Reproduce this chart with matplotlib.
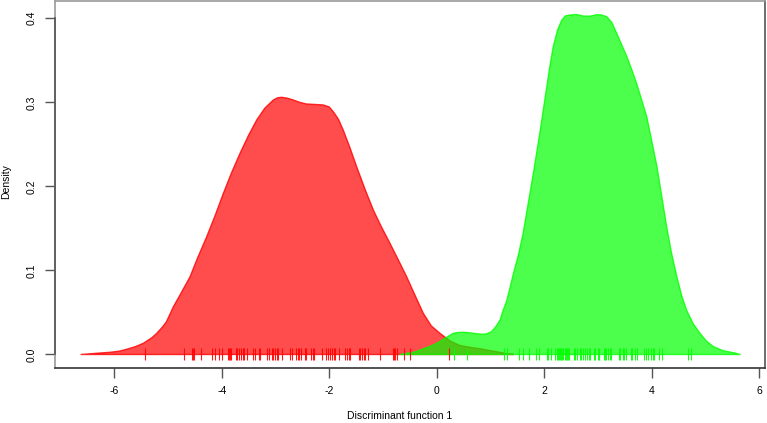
import matplotlib
matplotlib.use("Agg")
import matplotlib.pyplot as plt

# ---- data ----
red_x = [-6.62, -6.08, -5.90, -5.77, -5.60, -5.46, -5.30, -5.21, -5.10, -5.03, -4.90, -4.75,
         -4.59, -4.45, -4.28, -4.12, -3.97, -3.82, -3.66, -3.50, -3.35, -3.20, -3.04, -2.96,
         -2.885, -2.78, -2.67, -2.55, -2.42, -2.27, -2.11, -2.00, -1.925, -1.83, -1.74, -1.62,
         -1.49, -1.33, -1.18, -1.03, -0.87, -0.71, -0.56, -0.40, -0.25, -0.10, 0.06, 0.25,
         0.43, 0.62, 0.81, 1.00, 1.18, 1.30, 1.43]
red_y = [0.0, 0.0026, 0.0040, 0.0062, 0.0095, 0.0133, 0.0200, 0.0252, 0.0330, 0.0390, 0.0569,
         0.0740, 0.0926, 0.1150, 0.1402, 0.1660, 0.1918, 0.2160, 0.2394, 0.2610, 0.2790,
         0.2930, 0.3028, 0.3055, 0.3060, 0.3050, 0.3028, 0.3000, 0.2980, 0.2975, 0.2969,
         0.2945, 0.2889, 0.2800, 0.2671, 0.2470, 0.2234, 0.1960, 0.1719, 0.1520, 0.1323,
         0.1120, 0.0926, 0.0700, 0.0490, 0.0340, 0.0252, 0.0160, 0.0107, 0.0085, 0.0068,
         0.0045, 0.0025, 0.0010, 0.0]

green_x = [-0.68, -0.40, -0.06, 0.0, 0.155, 0.31, 0.40, 0.495, 0.59, 0.68, 0.84, 0.93, 1.02,
           1.10, 1.18, 1.24, 1.30, 1.36, 1.43, 1.52, 1.61, 1.70, 1.80, 1.92, 1.985, 2.05,
           2.11, 2.17, 2.25, 2.33, 2.40, 2.48, 2.60, 2.73, 2.85, 2.98, 3.07, 3.165, 3.26,
           3.35, 3.44, 3.54, 3.63, 3.72, 3.81, 3.91, 4.00, 4.10, 4.19, 4.28, 4.37, 4.47,
           4.56, 4.65, 4.77, 4.90, 5.02, 5.15, 5.33, 5.52, 5.65]
green_y = [0.0, 0.003, 0.0113, 0.0133, 0.0193, 0.0252, 0.0262, 0.0264, 0.0260, 0.0252, 0.0240,
           0.0245, 0.0271, 0.0330, 0.0410, 0.0530, 0.0630, 0.0780, 0.0966, 0.1180, 0.1442,
           0.1780, 0.2156, 0.2632, 0.2910, 0.3186, 0.3440, 0.3662, 0.3860, 0.3980, 0.4030,
           0.4039, 0.4045, 0.4027, 0.4025, 0.4043, 0.4040, 0.4019, 0.3950, 0.3822, 0.3690,
           0.3543, 0.3390, 0.3227, 0.3040, 0.2829, 0.2550, 0.2234, 0.1880, 0.1521, 0.1210,
           0.0926, 0.0700, 0.0529, 0.0370, 0.0252, 0.0160, 0.0093, 0.0045, 0.0021, 0.0]

red_rug = [-5.43, -4.70, -4.55, -4.53, -4.51, -4.38, -4.19, -4.12, -4.05, -3.99, -3.88, -3.86,
           -3.84, -3.83, -3.74, -3.71, -3.68, -3.64, -3.61, -3.58, -3.53, -3.41, -3.39, -3.30,
           -3.28, -3.16, -3.13, -3.07, -3.04, -3.01, -2.98, -2.95, -2.88, -2.73, -2.69, -2.62,
           -2.59, -2.56, -2.53, -2.45, -2.43, -2.34, -2.31, -2.28, -2.13, -2.06, -2.03, -1.98,
           -1.95, -1.92, -1.89, -1.81, -1.70, -1.67, -1.64, -1.61, -1.45, -1.42, -1.39, -1.36,
           -1.33, -1.27, -1.06, -0.81, -0.79, -0.77, -0.73, -0.61, -0.49, 0.235]
green_rug = [0.32, 0.57, 1.26, 1.31, 1.54, 1.61, 1.71, 1.84, 1.91, 2.05, 2.08, 2.13, 2.21, 2.24,
             2.26, 2.27, 2.30, 2.32, 2.34, 2.36, 2.38, 2.40, 2.42, 2.44, 2.47, 2.56, 2.58, 2.62,
             2.66, 2.69, 2.72, 2.77, 2.80, 2.83, 2.86, 2.92, 2.94, 3.00, 3.03, 3.11, 3.13, 3.16,
             3.19, 3.23, 3.25, 3.40, 3.42, 3.46, 3.48, 3.53, 3.61, 3.63, 3.70, 3.73, 3.86, 3.89,
             3.93, 3.99, 4.02, 4.05, 4.13, 4.19, 4.67, 4.73]

x_ticks = [-6, -4, -2, 0, 2, 4, 6]
y_ticks = [0.0, 0.1, 0.2, 0.3, 0.4]
y_ticklabels = ["0.0", "0.1", "0.2", "0.3", "0.4"]
x_label = "Discriminant function 1"
y_label = "Density"

plt.rcParams['font.family'] = ['Liberation Sans', 'DejaVu Sans']
FS = 7.5

W, H = 767, 423
fig = plt.figure(figsize=(W / 100, H / 100), dpi=100)
ax = fig.add_axes([55 / W, (H - 368) / H, (765.3 - 55) / W, (368 - 1) / H])

ax.fill(red_x, red_y, facecolor=(1, 0, 0, 0.7), edgecolor=(1, 0, 0, 0.8), linewidth=1.0,
        joinstyle='round', zorder=2)
ax.fill(green_x, green_y, facecolor=(0, 1, 0, 0.7), edgecolor=(0, 1, 0, 0.8), linewidth=1.0,
        joinstyle='round', zorder=3)

ax.vlines(red_rug, -0.006, 0.0077, colors=(1, 0, 0, 0.9), linewidth=0.8, zorder=4)
ax.vlines(green_rug, -0.006, 0.0077, colors=(0, 1, 0, 0.9), linewidth=0.8, zorder=4)

ax.set_xlim(-7.105, 6.117)
ax.set_ylim(-0.0161, 0.4206)

ax.set_xticks(x_ticks)
ax.set_xticklabels([str(v) if v >= 0 else "-" + str(-v) for v in x_ticks], fontsize=FS)
ax.set_yticks(y_ticks)
ax.set_yticklabels(y_ticklabels, fontsize=FS, rotation=90, va='center')
ax.tick_params(axis='x', length=7, width=1, color='#555555', pad=6)
ax.tick_params(axis='y', length=7, width=1, color='#555555', pad=6)

ax.spines['top'].set_color('#999999')
ax.spines['left'].set_color('#999999')
ax.spines['bottom'].set_color('#333333')
ax.spines['right'].set_color('#555555')
for s in ax.spines.values():
    s.set_linewidth(1.2)
ax.plot([-7.105, -7.105], [0.0, 0.4], color='#555555', lw=1.2, clip_on=False, zorder=5)

fig.text(400 / W, (H - 416) / H, x_label, fontsize=FS, ha='center', va='center')
fig.text(6 / W, (H - 182) / H, y_label, fontsize=FS, ha='center', va='center', rotation=90)

fig.savefig("out.png", dpi=100)
